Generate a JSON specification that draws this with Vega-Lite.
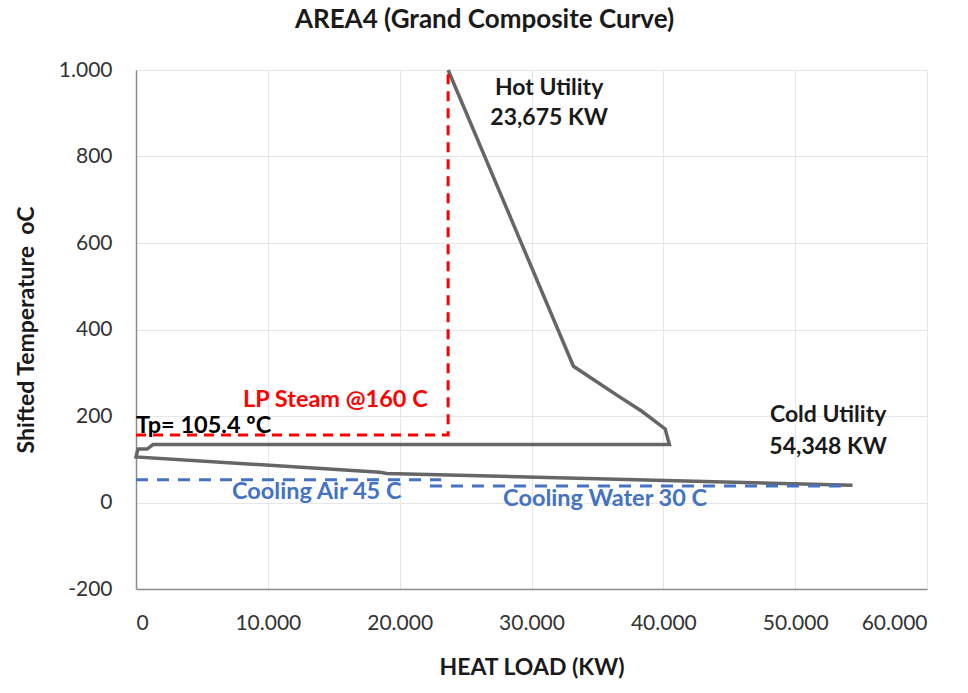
{
  "$schema": "https://vega.github.io/schema/vega-lite/v6.json",
  "width": 791,
  "height": 519,
  "autosize": {"type": "none"},
  "padding": {"left": 136, "top": 70, "right": 41, "bottom": 104},
  "background": "white",
  "title": {
    "text": "AREA4 (Grand Composite Curve)",
    "anchor": "middle",
    "dx": -47,
    "offset": 26,
    "font": "Lato",
    "fontSize": 26,
    "fontWeight": "bold",
    "color": "#1a1a1a"
  },
  "datasets": {
    "gcc": [
      {"step": 1, "heat": 23675, "temp": 1000},
      {"step": 2, "heat": 33180, "temp": 315},
      {"step": 3, "heat": 36590, "temp": 246},
      {"step": 4, "heat": 38370, "temp": 211},
      {"step": 5, "heat": 40140, "temp": 170},
      {"step": 6, "heat": 40460, "temp": 134},
      {"step": 7, "heat": 1290, "temp": 134},
      {"step": 8, "heat": 840, "temp": 123.5},
      {"step": 9, "heat": 150, "temp": 123.5},
      {"step": 10, "heat": 0, "temp": 105.4},
      {"step": 11, "heat": 18510, "temp": 70},
      {"step": 12, "heat": 19020, "temp": 67},
      {"step": 13, "heat": 54348, "temp": 40}
    ],
    "steam": [
      {"step": 1, "heat": 0, "temp": 156},
      {"step": 2, "heat": 23675, "temp": 156},
      {"step": 3, "heat": 23675, "temp": 1000}
    ],
    "cooling": [
      {"utility": "air", "heat": 0, "temp": 52.5},
      {"utility": "air", "heat": 23150, "temp": 52.5},
      {"utility": "water", "heat": 22300, "temp": 38},
      {"utility": "water", "heat": 53500, "temp": 38}
    ],
    "blackLabels": [
      {"label": "Hot Utility", "heat": 31335, "temp": 959},
      {"label": "23,675 KW", "heat": 31335, "temp": 889},
      {"label": "Cold Utility", "heat": 52500, "temp": 203},
      {"label": "54,348 KW", "heat": 52500, "temp": 129}
    ],
    "leftLabels": [
      {"label": "LP Steam @160 C", "kind": "steam", "heat": 8120, "temp": 237},
      {"label": "Tp= 105.4 ºC", "kind": "pinch", "heat": 0, "temp": 177},
      {"label": "Cooling Air 45 C", "kind": "cooling", "heat": 7284, "temp": 25},
      {"label": "Cooling Water 30 C", "kind": "cooling", "heat": 27845, "temp": 9}
    ]
  },
  "encoding": {
    "x": {
      "field": "heat",
      "type": "quantitative",
      "scale": {"domain": [0, 60000], "nice": false, "zero": false},
      "axis": {
        "title": "HEAT LOAD (KW)",
        "values": [0, 10000, 20000, 30000, 40000, 50000, 60000],
        "labelExpr": "replace(format(datum.value, ','), ',', '.')",
        "labelPadding": 23,
        "titlePadding": 23
      }
    },
    "y": {
      "field": "temp",
      "type": "quantitative",
      "scale": {"domain": [-200, 1000], "nice": false, "zero": false},
      "axis": {
        "title": "Shifted Temperature \u00a0oC",
        "values": [-200, 0, 200, 400, 600, 800, 1000],
        "labelExpr": "replace(replace(format(datum.value, ','), ',', '.'), '\u2212', '-')",
        "labelPadding": 24,
        "titlePadding": 20
      }
    }
  },
  "layer": [
    {
      "data": {"name": "gcc"},
      "mark": {"type": "line", "color": "#666666", "strokeWidth": 3.5, "strokeJoin": "miter"},
      "encoding": {"order": {"field": "step", "type": "quantitative"}}
    },
    {
      "data": {"name": "steam"},
      "mark": {"type": "line", "color": "#ff0000", "strokeWidth": 3, "strokeDash": [10, 7]},
      "encoding": {"order": {"field": "step", "type": "quantitative"}}
    },
    {
      "data": {"name": "cooling"},
      "mark": {"type": "line", "color": "#4472c4", "strokeWidth": 3, "strokeDash": [12, 9]},
      "encoding": {"detail": {"field": "utility", "type": "nominal"}}
    },
    {
      "data": {"name": "blackLabels"},
      "mark": {"type": "text", "font": "Lato", "fontSize": 23, "fontWeight": "bold", "color": "#1a1a1a", "align": "center", "baseline": "middle"},
      "encoding": {"text": {"field": "label"}}
    },
    {
      "data": {"name": "leftLabels"},
      "mark": {"type": "text", "font": "Lato", "fontSize": 23.5, "fontWeight": "bold", "align": "left", "baseline": "middle"},
      "encoding": {
        "text": {"field": "label"},
        "color": {
          "field": "kind",
          "type": "nominal",
          "legend": null,
          "scale": {"domain": ["steam", "pinch", "cooling"], "range": ["#ff0000", "#000000", "#4472c4"]}
        }
      }
    }
  ],
  "config": {
    "view": {"stroke": null},
    "axis": {
      "labelFont": "Lato",
      "labelFontSize": 21,
      "labelColor": "#333333",
      "titleFont": "Lato",
      "titleFontSize": 23,
      "titleFontWeight": "bold",
      "titleColor": "#1a1a1a",
      "gridColor": "#e6e6e6",
      "gridWidth": 1,
      "domainColor": "#8c8c8c",
      "domainWidth": 1.5,
      "ticks": false
    }
  }
}
